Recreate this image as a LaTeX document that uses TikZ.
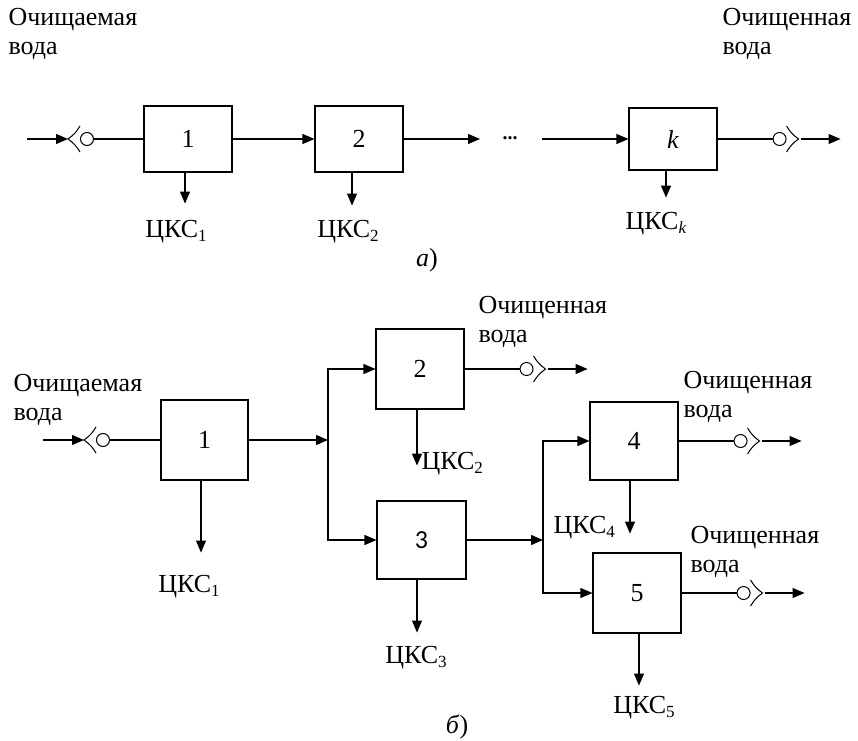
\documentclass[tikz,border=0pt]{standalone}
\usepackage{fontspec}
\setmainfont{Liberation Serif}
\newfontfamily\sansfig{Carlito}
\newcommand\ind[1]{\raisebox{-4pt}{\fontsize{17}{17}\selectfont#1}}
\usetikzlibrary{arrows.meta,positioning,calc}

\begin{document}
\begin{tikzpicture}[x=1pt,y=1pt,>={Triangle[length=12pt,width=10pt]},line width=1.1pt,
  font=\fontsize{26}{29}\selectfont,
  blk/.style={draw,minimum width=88pt,minimum height=66pt,inner sep=0pt},
  plug/.style={draw,circle,minimum size=13pt,inner sep=0pt,line width=1pt},
  txt/.style={inner sep=0pt,anchor=base west,align=left},
  cks/.style={inner sep=0pt,anchor=base}]
\useasboundingbox (0,0) rectangle (858,740);
% scheme a): chain of blocks
\node[blk] (a1) at (188,601) {1};
\node[blk] (a2) at (359,601) {2};
\node[blk,minimum height=62pt] (ak) at (673,601) {\textit{k}};
\node[plug] (ia) at (87,601) {};
\draw[line width=1pt] (ia.west) ++(0,13) to[bend left=12] ++(-12,-13) coordinate (va) to[bend left=12] ++(12,-13);
\coordinate (sa) at (27,601);
\draw[->] (sa) -- (va);
\draw (ia) -- (a1);
\draw[->] (a1) -- (a2);
\coordinate (dl) at (480,601);
\coordinate (dr) at (542,601);
\draw[->] (a2) -- (dl);
\node[font=\fontsize{20}{20}\selectfont\bfseries,inner sep=0pt] (dots) at (510,602) {...};
\draw[->] (dr) -- (ak);
\node[txt] (ina) at (8,685) {Очищаемая\\вода};
\node[txt] (outa) at (722,685) {Очищенная\\вода};
\node[cks] (capa) at (427,473) {\textit{а})};

% scheme b): branching
\node[blk,minimum width=87pt,minimum height=80pt] (b1) at (204.5,300) {1};
\node[blk,minimum height=80pt] (b2) at (420,371) {2};
\node[blk,minimum width=89pt,minimum height=78pt] (b3) at (421.5,200) {\sansfig 3};
\node[blk,minimum height=78pt] (b4) at (634,299) {4};
\node[blk,minimum height=80pt] (b5) at (637,147) {5};
\node[plug] (ib) at (103,300) {};
\draw[line width=1pt] (ib.west) ++(0,13) to[bend left=12] ++(-12,-13) coordinate (vb) to[bend left=12] ++(12,-13);
\coordinate (sb) at (43,300);
\draw[->] (sb) -- (vb);
\draw (ib) -- (b1);
\coordinate (j1) at (328,300);
\draw[->] (b1) -- (j1);
\draw[<->] (b2.west) -| (j1) |- (b3.west);
\coordinate (j2) at (543,200);
\draw[->] (b3) -- (j2);
\draw[<->] (b4.west) -| (j2) |- (b5.west);
\node[txt] (inb) at (13,320) {Очищаемая\\вода};
\node[txt] (ob2) at (478,398) {Очищенная\\вода};
\node[txt] (ob4) at (683,323) {Очищенная\\вода};
\node[txt] (ob5) at (690,168) {Очищенная\\вода};
\node[cks] (capb) at (457,7) {\textit{б})};

% outlets
\foreach \b in {ak,b2,b4,b5}{
  \node[plug,right=55pt of \b.east] (o\b) {};
  \draw[line width=1pt] (o\b.east) ++(0,13) to[bend right=12] ++(12,-13) coordinate (v\b) to[bend right=12] ++(-12,-13);
  \draw (\b.east) -- (o\b.west);
  \draw[->] ([xshift=2pt]v\b) -- ++(40,0) coordinate (e\b);
}
% sludge outlets
\foreach \b/\dx/\len in {a1/-3/31,a2/-7/33,ak/-7/27,b1/-3.5/72,b2/-3/56,b3/-4.5/53,b4/-4/53,b5/2/52}
  \draw[->] ([xshift=\dx pt]\b.south) -- ++(0,-\len) coordinate (w\b);
\node[cks] (ka1) at (176,502) {ЦКС\ind{1}};
\node[cks] (ka2) at (348,502) {ЦКС\ind{2}};
\node[cks] (kak) at (656,510) {ЦКС\ind{\textit{k}}};
\node[cks] (kb1) at (189,148) {ЦКС\ind{1}};
\node[txt] (kb2) at (421,271) {ЦКС\ind{2}};
\node[cks] (kb3) at (416,77) {ЦКС\ind{3}};
\node[txt] (kb4) at (553,207) {ЦКС\ind{4}};
\node[cks] (kb5) at (644,27) {ЦКС\ind{5}};
\end{tikzpicture}
\end{document}
